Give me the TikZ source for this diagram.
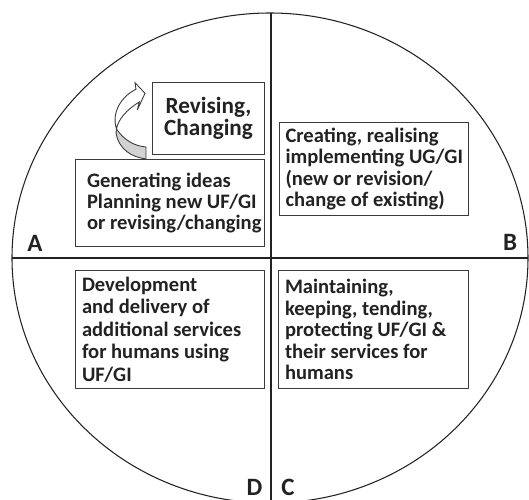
\documentclass[tikz,border=0pt]{standalone}
\usepackage{fontspec}
\setmainfont{Carlito}
\usepackage{xcolor}
\definecolor{linegray}{HTML}{222222}
\definecolor{boxgray}{HTML}{3A3A3A}
\definecolor{ribbongray}{HTML}{D2D2D2}
\tikzset{
  stagebox/.style={draw=boxgray, line width=0.6pt, anchor=north west, inner sep=0pt},
  stagetext/.style={anchor=west, align=left, inner sep=0pt, text=linegray},
  quadlabel/.style={font=\bfseries\fontsize{14.2}{14.2}\selectfont, inner sep=0pt, text=linegray},
}

\begin{document}
\begin{tikzpicture}[x=0.02cm, y=-0.02cm, line width=0.6pt]
  \useasboundingbox (0,0) rectangle (529,500);
  \draw[linegray] (270,258) ellipse [x radius=258, y radius=245];
  \coordinate (west) at (12,258);
  \coordinate (east) at (528,258);
  \coordinate (north) at (271,13);
  \coordinate (south) at (271,500);
  \draw[linegray, line width=1.5pt] (west) -- (east);
  \draw[linegray, line width=1.5pt] (north) -- (south);

  \node[stagebox, minimum width=2.24cm, minimum height=1.44cm] (revise) at (152,82) {};
  \node[stagebox, minimum width=3.78cm, minimum height=1.74cm] (plan) at (75,159) {};
  \node[stagebox, minimum width=3.78cm, minimum height=1.86cm] (create) at (279,122) {};
  \node[stagebox, minimum width=3.78cm, minimum height=2.36cm] (develop) at (75,270) {};
  \node[stagebox, minimum width=3.80cm, minimum height=2.36cm] (maintain) at (278,270) {};

  \node[stagetext, anchor=center, align=center, font=\bfseries\fontsize{13.2}{10.2}\selectfont]
    (revisetext) at (revise.center) {Revising,\\Changing};
  \node[stagetext, font=\bfseries\fontsize{11.7}{11.7}\selectfont]
    (plantext) at ([xshift=0.23cm]plan.west)
    {Generating ideas\\Planning new UF/GI\\or revising/changing};
  \node[stagetext, font=\bfseries\fontsize{11.7}{12}\selectfont]
    (createtext) at ([xshift=0.12cm]create.west)
    {Creating, realising\\implementing UG/GI\\(new or revision/\\change of existing)};
  \node[stagetext, font=\bfseries\fontsize{11.7}{12.8}\selectfont]
    (developtext) at ([xshift=0.13cm]develop.west)
    {Development\\and delivery of\\additional services\\for humans using\\UF/GI};
  \node[stagetext, font=\bfseries\fontsize{11.7}{12.3}\selectfont]
    (maintaintext) at ([xshift=0.13cm]maintain.west)
    {Maintaining,\\keeping, tending,\\protecting UF/GI \&\\their services for\\humans};

  \node[quadlabel] (labA) at (35,243) {A};
  \node[quadlabel] (labB) at (510,242) {B};
  \node[quadlabel] (labD) at (254.5,487) {D};
  \node[quadlabel] (labC) at (288,487) {C};

  % twisted ribbon arrow from plan back up to revise
  \draw[boxgray, line width=0.5pt, fill=ribbongray]
    (116.5,129) .. controls (124,140) and (134,146) .. (146,147)
    -- (146,159) .. controls (132,157) and (119,150) .. (116,133) -- cycle;
  \draw[boxgray, line width=0.5pt, fill=white]
    (136,89.3) .. controls (122,96) and (111,112) .. (116.5,129)
    .. controls (118,120) and (126,110) .. (139.3,102)
    -- (137.3,110) -- (145,93.3) -- (135,82.7) -- cycle;
\end{tikzpicture}
\end{document}
